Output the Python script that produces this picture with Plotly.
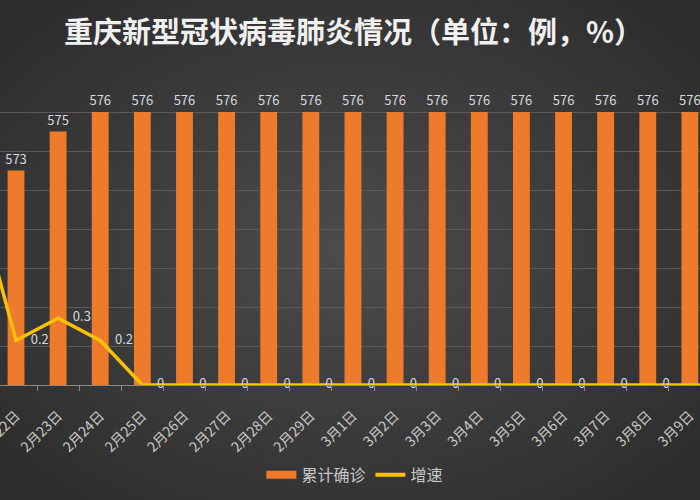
import plotly.graph_objects as go

# 日期（左右两端被裁掉一部分）
dates = ["2月21日", "2月22日", "2月23日", "2月24日", "2月25日", "2月26日", "2月27日",
         "2月28日", "2月29日", "3月1日", "3月2日", "3月3日", "3月4日", "3月5日",
         "3月6日", "3月7日", "3月8日", "3月9日", "3月10日"]
confirmed = [572, 573, 575, 576, 576, 576, 576, 576, 576, 576, 576, 576, 576, 576,
             576, 576, 576, 576, 576]
growth = [0.9, 0.2, 0.3, 0.2, 0, 0, 0, 0, 0, 0, 0, 0, 0, 0, 0, 0, 0, 0, 0]

FONT = "Noto Sans CJK SC"
label_color = "#d4d8de"

bg_svg = (
    "data:image/svg+xml;utf8,"
    "<svg xmlns='http://www.w3.org/2000/svg' width='700' height='500'>"
    "<defs><radialGradient id='g' cx='50%' cy='50%' r='65%'>"
    "<stop offset='0%' stop-color='%234c4c4c'/>"
    "<stop offset='100%' stop-color='%232d2d2d'/>"
    "</radialGradient></defs>"
    "<rect width='700' height='500' fill='url(%23g)'/></svg>"
)

fig = go.Figure()

fig.add_trace(go.Bar(
    x=dates, y=confirmed, name="累计确诊",
    width=0.4,
    marker=dict(color="#ee7a2c", line=dict(width=0)),
    text=[str(v) for v in confirmed], textposition="outside",
    constraintext="none",
    textfont=dict(color=label_color, size=13, family=FONT),
    cliponaxis=False, showlegend=False,
))

fig.add_trace(go.Scatter(
    x=dates, y=growth, name="增速", yaxis="y2",
    mode="lines+markers+text",
    line=dict(color="#ffc000", width=3.5),
    marker=dict(size=22, opacity=0),
    text=[("%g" % v) for v in growth], textposition="middle right",
    textfont=dict(color=label_color, size=13, family=FONT),
    cliponaxis=False, showlegend=False,
))

# 图例
fig.add_trace(go.Scatter(x=[None], y=[None], name="累计确诊", mode="lines",
                         line=dict(color="#ee7a2c", width=8)))
fig.add_trace(go.Scatter(x=[None], y=[None], name="增速", mode="lines",
                         line=dict(color="#ffc000", width=4)))

fig.update_layout(
    width=700, height=500,
    margin=dict(l=0, r=0, t=73, b=115, autoexpand=False),
    paper_bgcolor="#3c3c3c",
    plot_bgcolor="rgba(0,0,0,0)",
    font=dict(family=FONT, color="#c8c8c8"),
    title=dict(text="<b>重庆新型冠状病毒肺炎情况（单位：例，%）</b>",
               x=0.505, xanchor="center", y=0.935, yanchor="middle",
               font=dict(size=29, color="#f0f0f0", family=FONT)),
    xaxis=dict(
        type="category", range=[0.62, 17.24], automargin=False,
        tickangle=-45, tickson="boundaries",
        ticks="outside", ticklen=5, tickcolor="#8a8a8a",
        ticklabelstandoff=16,
        showline=True, linecolor="#8a8a8a", linewidth=1,
        showgrid=False,
        tickfont=dict(size=14, color="#c8c8c8", family=FONT),
    ),
    yaxis=dict(
        range=[562, 578], dtick=2, showticklabels=False, automargin=False,
        showgrid=True, gridcolor="#5a5a5a", gridwidth=1,
        zeroline=False,
    ),
    yaxis2=dict(
        range=[0, 1.4], overlaying="y", side="right", automargin=False,
        showticklabels=False, showgrid=False, zeroline=False,
    ),
    legend=dict(orientation="h", x=0.507, xanchor="center", y=-0.288, yanchor="middle",
                font=dict(size=16, color="#c8c8c8", family=FONT),
                bgcolor="rgba(0,0,0,0)"),
    images=[dict(source=bg_svg, xref="paper", yref="paper",
                 x=0, y=1 + 73 / 312, sizex=1, sizey=500 / 312,
                 xanchor="left", yanchor="top", sizing="stretch", layer="below")],
)

fig.write_html("out.html", config={"displayModeBar": False},
               post_script="document.body.style.margin='0';")
